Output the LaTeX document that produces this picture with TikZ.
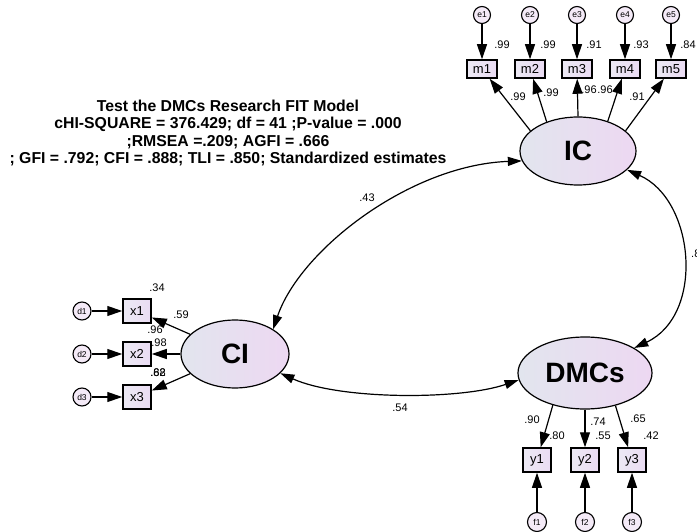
\documentclass[tikz,border=0pt]{standalone}
\usepackage{fontspec}
\setmainfont{Liberation Sans}
\usetikzlibrary{arrows.meta,shapes.geometric,calc}
\definecolor{gleft}{HTML}{E2E5EE}
\definecolor{gright}{HTML}{EDD8F2}
\definecolor{bleft}{HTML}{ECE9F4}
\definecolor{bright}{HTML}{EADBF3}
\definecolor{cfill}{HTML}{F4EAF7}
\tikzset{
 lat/.style={ellipse, draw, line width=1.2pt, left color=gleft, right color=gright, inner sep=0pt, font=\bfseries\fontsize{28}{30}\selectfont},
 obsm/.style={rectangle, draw, line width=1.5pt, left color=bleft, right color=bright, minimum width=30pt, minimum height=18pt, inner sep=0pt, font=\fontsize{13}{14}\selectfont},
 obsx/.style={obsm, minimum width=28pt, minimum height=24pt},
 err/.style={circle, draw, line width=1.1pt, fill=cfill, minimum size=17pt, inner sep=0pt, font=\fontsize{8.5}{9}\selectfont},
 lbl/.style={inner sep=0pt, font=\fontsize{11}{12}\selectfont},
 arr/.style={line width=1.2pt, -{Triangle[length=15pt,width=10pt]}},
 darr/.style={line width=1.2pt, {Triangle[length=14pt,width=9pt]}-{Triangle[length=14pt,width=9pt]}},
}
\begin{document}
\begin{tikzpicture}[x=1pt,y=-1pt]
\useasboundingbox (0,0) rectangle (697,532);
% title
\node[align=center, inner sep=0pt, font=\bfseries\fontsize{15.8}{17.3}\selectfont] (title) at (228,133)
 {Test the DMCs Research FIT Model\\cHI-SQUARE = 376.429; df = 41 ;P-value = .000\\;RMSEA =.209; AGFI = .666\\; GFI = .792; CFI = .888; TLI = .850; Standardized estimates};
% latent
\node[lat, minimum width=116pt, minimum height=68pt] (IC) at (578,151) {IC};
\node[lat, minimum width=134pt, minimum height=72pt] (DMC) at (585,373) {DMCs};
\node[lat, minimum width=108pt, minimum height=68pt] (CI) at (235,354) {CI};
% m indicators
\foreach \n/\x in {1/482,2/530,3/577,4/625,5/671}{
  \node[obsm] (m\n) at (\x,69) {m\n};
  \node[err] (e\n) at (\x,15) {e\n};
  \draw[arr] (e\n) -- (m\n);
}
\draw[arr] (IC.157) -- (m1);
\draw[arr] (IC.137) -- (m2);
\draw[arr] (IC.90) -- (m3);
\draw[arr] (IC.45) -- (m4);
\draw[arr] (IC.23) -- (m5);
% x indicators
\foreach \n/\y in {1/311,2/354,3/397}{
  \node[obsx] (x\n) at (137,\y) {x\n};
  \node[err, minimum size=18pt] (d\n) at (82,\y) {d\n};
  \draw[arr] (d\n) -- (x\n);
  \draw[arr] (CI) -- (x\n);
}
% y indicators
\foreach \n/\x in {1/537,2/585,3/632}{
  \node[obsx] (y\n) at (\x,460) {y\n};
  \node[err, minimum size=19pt] (f\n) at (\x,522) {f\n};
  \draw[arr] (f\n) -- (y\n);
}
\draw[arr] (DMC.225) -- (y1);
\draw[arr] (DMC.270) -- (y2);
\draw[arr] (DMC.313) -- (y3);
% covariances
\draw[darr] (CI.33) .. controls (300,250) and (410,165) .. (IC.190);
\draw[darr] (IC.339) .. controls (695,200) and (705,315) .. (DMC.27);
\draw[darr] (CI.337) .. controls (340,400) and (460,400) .. (DMC.186);
% labels
\node[lbl] (r1) at (502,45) {.99};
\node[lbl] (r2) at (548,45) {.99};
\node[lbl] (r3) at (594,45) {.91};
\node[lbl] (r4) at (641,45) {.93};
\node[lbl] (r5) at (688,45) {.84};
\node[lbl] (l1) at (518,97) {.99};
\node[lbl] (l2) at (551,93) {.99};
\node[lbl] (l3) at (589,90) {.96};
\node[lbl] (l4) at (605,90) {.96};
\node[lbl] (l5) at (637,97) {.91};
\node[lbl] (rx1) at (157,288) {.34};
\node[lbl] (lx1) at (181,315) {.59};
\node[lbl] (rx2) at (155,330) {.96};
\node[lbl] (lx2) at (159,343) {.98};
\node[lbl] (rx3) at (158,373) {.68};
\node[lbl] (lx3) at (158,373) {.82};
\node[lbl] (ly1) at (532,420) {.90};
\node[lbl] (ry1) at (557,436) {.80};
\node[lbl] (ly2) at (598,422) {.74};
\node[lbl] (ry2) at (603,436) {.55};
\node[lbl] (ly3) at (638,419) {.65};
\node[lbl] (ry3) at (651,436) {.42};
\node[lbl] (c1) at (367,198) {.43};
\node[lbl] (c2) at (400,408) {.54};
\begin{scope}
\clip (0,0) rectangle (697,532);
\node[lbl, anchor=west] (c3) at (691,254) {.8};
\end{scope}
\end{tikzpicture}
\end{document}
